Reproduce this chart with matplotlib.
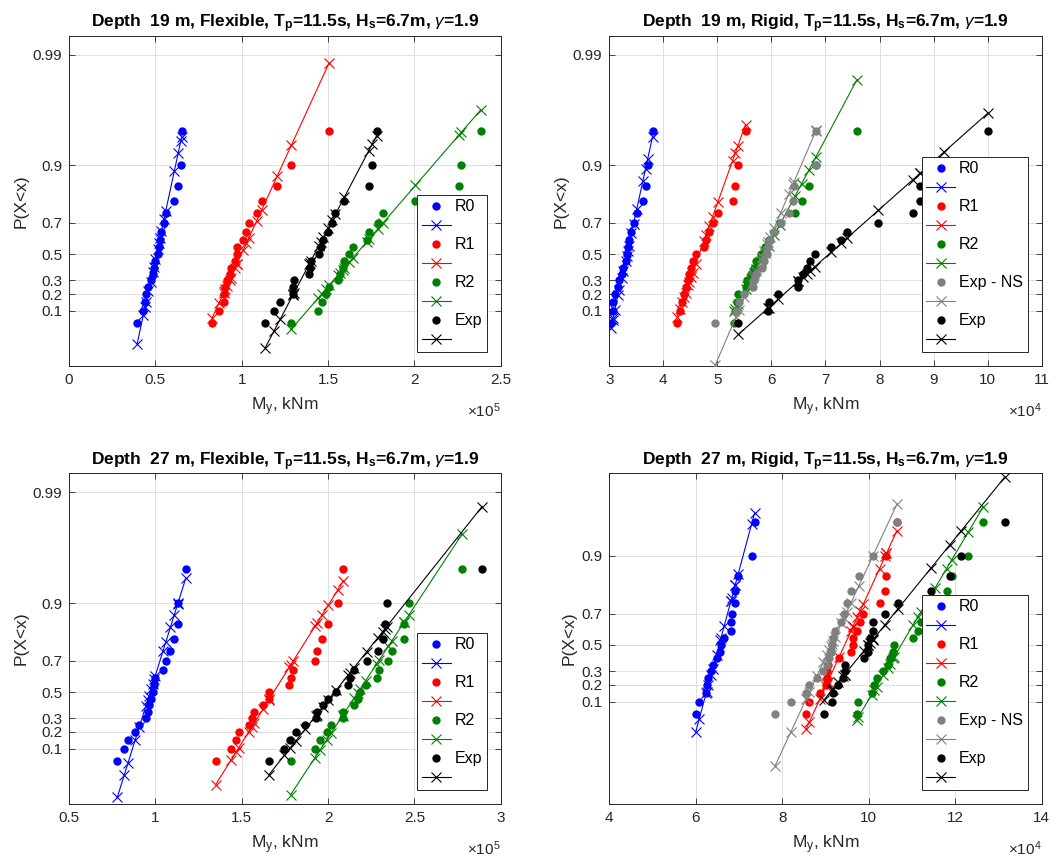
import numpy as np
import matplotlib
matplotlib.use('Agg')
import matplotlib.pyplot as plt
from matplotlib.ticker import FixedLocator, FuncFormatter, NullLocator

plt.rcParams['font.family'] = ['Liberation Sans', 'DejaVu Sans']
plt.rcParams['mathtext.fontset'] = 'custom'
plt.rcParams['mathtext.rm'] = 'Liberation Sans'
plt.rcParams['mathtext.it'] = 'Liberation Sans:italic'
plt.rcParams['mathtext.bf'] = 'Liberation Sans:bold'

# sorted maxima (x axis units shown with the x10^n multiplier)
# depth 19 m, flexible (x 1e5 kNm)
f19_r0 = [0.395, 0.430, 0.440, 0.447, 0.460, 0.472, 0.484, 0.490, 0.500, 0.513,
          0.520, 0.527, 0.535, 0.550, 0.560, 0.610, 0.633, 0.648, 0.652]
f19_r1 = [0.830, 0.869, 0.896, 0.900, 0.905, 0.913, 0.930, 0.936, 0.962, 0.971,
          0.971, 1.010, 1.027, 1.042, 1.087, 1.116, 1.205, 1.288, 1.506]
f19_r2 = [1.286, 1.444, 1.463, 1.486, 1.508, 1.556, 1.570, 1.585, 1.595, 1.622,
          1.643, 1.724, 1.739, 1.788, 1.820, 2.006, 2.258, 2.272, 2.384]
f19_exp = [1.136, 1.186, 1.224, 1.298, 1.300, 1.302, 1.390, 1.394, 1.400, 1.447,
           1.457, 1.473, 1.500, 1.524, 1.543, 1.595, 1.736, 1.757, 1.781]
f19_loc = [0.4846, 0.952, 1.575, 1.368]
f19_scale = [0.0588, 0.1253, 0.236, 0.1436]

# depth 19 m, rigid (x 1e4 kNm)
r19_r0 = [3.03, 3.06, 3.07, 3.10, 3.16, 3.18, 3.23, 3.26, 3.30, 3.32,
          3.34, 3.36, 3.41, 3.45, 3.51, 3.62, 3.67, 3.71, 3.80]
r19_r1 = [4.25, 4.30, 4.35, 4.38, 4.41, 4.46, 4.48, 4.51, 4.54, 4.60,
          4.75, 4.79, 4.85, 4.91, 5.01, 5.28, 5.33, 5.38, 5.52]
r19_r2 = [5.31, 5.33, 5.36, 5.38, 5.52, 5.55, 5.62, 5.68, 5.72, 5.80,
          5.88, 5.95, 6.05, 6.15, 6.44, 6.56, 6.69, 6.82, 7.58]
r19_ns = [4.96, 5.34, 5.40, 5.50, 5.66, 5.68, 5.71, 5.82, 5.87, 5.92,
          5.94, 5.98, 6.05, 6.17, 6.32, 6.40, 6.42, 6.82, 6.83]
r19_exp = [5.39, 5.94, 5.95, 6.13, 6.50, 6.50, 6.58, 6.66, 6.72, 6.80,
           7.11, 7.29, 7.39, 7.98, 8.62, 8.75, 8.75, 9.20, 10.01]
r19_loc = [3.256, 4.548, 5.694, 5.704, 6.699]
r19_scale = [0.1903, 0.3118, 0.464, 0.375, 0.984]

# depth 27 m, flexible (x 1e5 kNm)
f27_r0 = [0.780, 0.820, 0.842, 0.884, 0.907, 0.944, 0.955, 0.963, 0.975, 0.985,
          0.994, 1.000, 1.044, 1.060, 1.087, 1.110, 1.129, 1.132, 1.176]
f27_r1 = [1.349, 1.438, 1.467, 1.483, 1.541, 1.558, 1.573, 1.625, 1.656, 1.660,
          1.776, 1.784, 1.799, 1.925, 1.938, 1.965, 2.002, 2.056, 2.089]
f27_r2 = [1.784, 1.925, 1.954, 1.992, 2.017, 2.085, 2.089, 2.150, 2.172, 2.185,
          2.218, 2.282, 2.297, 2.349, 2.369, 2.442, 2.442, 2.467, 2.776]
f27_exp = [1.656, 1.747, 1.780, 1.813, 1.869, 1.930, 1.935, 1.969, 2.002, 2.046,
           2.118, 2.127, 2.151, 2.224, 2.288, 2.317, 2.330, 2.340, 2.892]
f27_loc = [0.9385, 1.622, 2.108, 1.958]
f27_scale = [0.0855, 0.1717, 0.180, 0.2174]

# depth 27 m, rigid (x 1e4 kNm)
r27_r0 = [6.00, 6.08, 6.24, 6.25, 6.29, 6.35, 6.39, 6.48, 6.57, 6.58,
          6.66, 6.81, 6.81, 6.83, 6.91, 6.91, 6.98, 7.29, 7.36]
r27_r1 = [8.55, 8.63, 8.87, 9.01, 9.03, 9.04, 9.05, 9.32, 9.59, 9.63,
          9.64, 9.74, 9.80, 9.875, 10.25, 10.38, 10.41, 10.41, 10.65]
r27_r2 = [9.72, 9.76, 10.07, 10.13, 10.18, 10.34, 10.44, 10.49, 10.57, 10.59,
          11.03, 11.13, 11.20, 11.36, 11.53, 11.80, 11.92, 12.30, 12.65]
r27_ns = [7.83, 8.20, 8.55, 8.63, 8.80, 8.95, 9.03, 9.08, 9.12, 9.15,
          9.18, 9.22, 9.37, 9.43, 9.49, 9.59, 9.77, 10.09, 10.65]
r27_exp = [8.97, 9.16, 9.18, 9.30, 9.41, 9.44, 9.44, 9.89, 9.99, 9.99,
           10.04, 10.09, 10.11, 10.38, 10.67, 11.44, 11.88, 12.13, 13.15]
r27_loc = [6.432, 9.259, 10.513, 8.949, 9.673]
r27_scale = [0.2936, 0.4998, 0.649, 0.509, 0.886]

names4 = ['R0', 'R1', 'R2', 'Exp']
names5 = ['R0', 'R1', 'R2', 'Exp - NS', 'Exp']
colors4 = ['#0000ff', '#ff0000', '#008000', '#000000']
colors5 = ['#0000ff', '#ff0000', '#008000', '#808080', '#000000']
prob_ticks = [0.1, 0.2, 0.3, 0.5, 0.7, 0.9, 0.99]


def gumbel_fwd(p):
    p = np.clip(np.asarray(p, dtype=float), 1e-300, 1 - 1e-16)
    return -np.log(-np.log(p))


def gumbel_inv(y):
    return np.exp(-np.exp(-np.asarray(y, dtype=float)))


def draw_panel(rect, title, series, names, colors, locs, scales, xlim, xticks, yr, power):
    ax = fig.add_axes(rect)
    ax.set_yscale('function', functions=(gumbel_fwd, gumbel_inv))
    handles, labels = [], []
    for vals, name, c, mu, beta in zip(series, names, colors, locs, scales):
        x = np.sort(np.asarray(vals))
        n = len(x)
        p = np.arange(1, n + 1) / (n + 1)
        h1, = ax.plot(x, p, '.', color=c, ms=10, zorder=3)
        pf = np.exp(-np.exp(-(x - mu) / beta))
        h2, = ax.plot(x, pf, '-x', color=c, lw=0.8, ms=6.5, mew=0.8, zorder=3)
        handles += [h1, h2]
        labels += [name, '']
    ax.set_xlim(xlim)
    ax.set_ylim(gumbel_inv(yr[0]), gumbel_inv(yr[1]))
    ax.xaxis.set_major_locator(FixedLocator(xticks))
    ax.xaxis.set_major_formatter(FuncFormatter(lambda v, pos: '%g' % v))
    ax.yaxis.set_major_locator(FixedLocator(prob_ticks))
    ax.yaxis.set_major_formatter(FuncFormatter(lambda v, pos: '%g' % v))
    ax.yaxis.set_minor_locator(NullLocator())
    ax.xaxis.set_minor_locator(NullLocator())
    ax.grid(True, color='#dfdfdf', lw=0.7)
    ax.set_axisbelow(True)
    ax.tick_params(direction='in', top=True, right=True, length=4, width=0.6,
                   labelsize=11, colors='#262626', pad=5)
    for s in ax.spines.values():
        s.set_color('#262626')
        s.set_linewidth(0.7)
    ax.set_title(title, fontsize=12.5, fontweight='bold', pad=6)
    ax.set_xlabel(r'M$_\mathrm{y}$, kNm', fontsize=12.5, color='#262626', labelpad=6)
    ax.set_ylabel('P(X<x)', fontsize=12.5, color='#262626', labelpad=3)
    ax.text(1.0, -0.135, r'$\times10^{%d}$' % power, transform=ax.transAxes,
            ha='right', va='center', fontsize=11, color='#262626')
    leg = ax.legend(handles, labels, loc='lower right', bbox_to_anchor=(0.968, 0.042),
                    borderaxespad=0, fancybox=False, framealpha=1, edgecolor='#262626',
                    fontsize=11.5, handlelength=1.8, handletextpad=0.25,
                    labelspacing=0.25, borderpad=0.3)
    leg.get_frame().set_linewidth(0.7)
    leg.set_zorder(5)
    return ax


fig = plt.figure(figsize=(10.59, 8.61), dpi=100)

tail = r', T$_\mathbf{p}$=11.5s, H$_\mathbf{s}$=6.7m, $\gamma$=1.9'

draw_panel([0.06516, 0.57491, 0.40765, 0.38362], 'Depth  19 m, Flexible' + tail,
           [f19_r0, f19_r1, f19_r2, f19_exp], names4, colors4, f19_loc, f19_scale,
           (0, 2.5), [0, 0.5, 1, 1.5, 2, 2.5], (-2, 5), 5)
draw_panel([0.57535, 0.57491, 0.40831, 0.38362], 'Depth  19 m, Rigid' + tail,
           [r19_r0, r19_r1, r19_r2, r19_ns, r19_exp], names5, colors5, r19_loc, r19_scale,
           (3, 11), list(range(3, 12)), (-2, 5), 4)
draw_panel([0.06516, 0.06620, 0.40765, 0.38409], 'Depth  27 m, Flexible' + tail,
           [f27_r0, f27_r1, f27_r2, f27_exp], names4, colors4, f27_loc, f27_scale,
           (0.5, 3), [0.5, 1, 1.5, 2, 2.5, 3], (-2, 5), 5)
draw_panel([0.57535, 0.06620, 0.40831, 0.38409], 'Depth  27 m, Rigid' + tail,
           [r27_r0, r27_r1, r27_r2, r27_ns, r27_exp], names5, colors5, r27_loc, r27_scale,
           (4, 14), list(range(4, 15, 2)), (-3, 4), 4)

fig.savefig('out.png', dpi=100)
